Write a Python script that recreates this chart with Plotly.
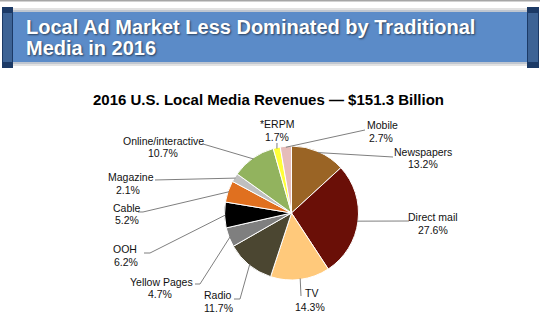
import math
import plotly.graph_objects as go

# ---- data ----
categories = ["Newspapers", "Direct mail", "TV", "Radio", "Yellow Pages", "OOH",
              "Cable", "Magazine", "Online/interactive", "*ERPM", "Mobile"]
shares = [13.2, 27.6, 14.3, 11.7, 4.7, 6.2, 5.2, 2.1, 10.7, 1.7, 2.7]
pct_labels = ["13.2%", "27.6%", "14.3%", "11.7%", "4.7%", "6.2%", "5.2%", "2.1%", "10.7%", "1.7%", "2.7%"]
colors = ["#9A6425", "#6A0F07", "#FFC97B", "#4B4631", "#7F7F7F", "#000000",
          "#E0701F", "#BFBFBF", "#92B35E", "#FFFF38", "#E6BDBA"]

header_lines = ["Local Ad Market Less Dominated by Traditional", "Media in 2016"]
chart_title = "2016 U.S. Local Media Revenues \u2014 $151.3 Billion"

# ---- layout constants (pixels) ----
W, H = 540, 334
CX, CY, R = 291.5, 213.0, 67.0

# label placement: (name x, name y, pct x, pct y)
label_pos = [
    (423, 152, 423, 164),
    (433, 217, 433, 230),
    (311, 293, 310, 307),
    (218, 295, 218, 308),
    (161, 282, 160, 294),
    (125, 249, 126, 262),
    (127, 208, 127, 220),
    (131, 177, 128, 190),
    (163, 141, 163, 153),
    (277, 124, 277, 137),
    (382, 125, 381, 138),
]
# leader-line anchor points near the labels (list of points, ending next to slice)
leader_anchor = [
    [(393, 157)],
    [(409, 221)],
    [(301, 296)],
    [(234, 299), (240, 299)],
    [(195, 284), (200, 284)],
    [(144, 253), (150, 253)],
    [(138, 212), (143, 212)],
    [(155, 180)],
    [(203, 144)],
    [(277, 143)],
    [(365, 130)],
]


def px(x):
    return x / W


def py(y):
    return 1 - y / H


fig = go.Figure()
fig.add_trace(go.Pie(
    values=shares,
    labels=categories,
    sort=False,
    direction="clockwise",
    rotation=0,
    textinfo="none",
    hoverinfo="label+percent",
    showlegend=False,
    marker=dict(colors=colors, line=dict(color="white", width=1)),
    domain=dict(x=[px(CX - R), px(CX + R)], y=[py(CY + R), py(CY - R)]),
))

shapes = []
# top gray border
shapes.append(dict(type="rect", xref="paper", yref="paper", x0=0, x1=1, y0=py(1.5), y1=1,
                   fillcolor="#A6A6A6", line=dict(width=0), layer="below"))
# banner shadow & body
shapes.append(dict(type="rect", xref="paper", yref="paper", x0=px(13), x1=px(527), y0=py(66), y1=py(8),
                   fillcolor="#E2E2E2", line=dict(width=0), layer="below"))
shapes.append(dict(type="rect", xref="paper", yref="paper", x0=px(13), x1=px(527), y0=py(64), y1=py(10),
                   fillcolor="#BFC6D0", line=dict(width=0), layer="below"))
shapes.append(dict(type="rect", xref="paper", yref="paper", x0=px(13), x1=px(527), y0=py(62), y1=py(12),
                   fillcolor="#5B8BC8", line=dict(width=0), layer="below"))
# end caps
for x0, x1 in [(2, 13), (527, 539)]:
    shapes.append(dict(type="rect", xref="paper", yref="paper", x0=px(x0), x1=px(x1), y0=py(68), y1=py(7),
                       fillcolor="#1C3A66", line=dict(width=0), layer="below"))
    shapes.append(dict(type="rect", xref="paper", yref="paper", x0=px(x0 + 1), x1=px(x1 - 1), y0=py(62), y1=py(13),
                       fillcolor="#3D6395", line=dict(width=0), layer="below"))

# leader lines: from slice middle on the rim to the label anchor
total = sum(shares)
cum = 0.0
for i, v in enumerate(shares):
    mid = (cum + v / 2) / total * 2 * math.pi
    cum += v
    ex = CX + (R - 1) * math.sin(mid)
    ey = CY - (R - 1) * math.cos(mid)
    pts = leader_anchor[i] + [(ex, ey)]
    path = "M " + " L ".join(f"{px(a):.5f},{py(b):.5f}" for a, b in pts)
    shapes.append(dict(type="path", xref="paper", yref="paper", path=path,
                       line=dict(color="#7F7F7F", width=1)))

annotations = []
for text, yy in [(header_lines[0], 27), (header_lines[1], 48)]:
    annotations.append(dict(text="<b>" + text + "</b>", x=px(24), y=py(yy), xref="paper", yref="paper",
                            xanchor="left", yanchor="middle", showarrow=False,
                            font=dict(family="Arial", size=20, color="white",
                                      shadow="1px 1px 2px rgba(0,0,0,0.55)")))
annotations.append(dict(text="<b>" + chart_title + "</b>", x=px(268.5), y=py(100), xref="paper", yref="paper",
                        xanchor="center", yanchor="middle", showarrow=False,
                        font=dict(family="Arial", size=15, color="black")))
for i, name in enumerate(categories):
    nx, ny, qx, qy = label_pos[i]
    annotations.append(dict(text=name, x=px(nx), y=py(ny), xref="paper", yref="paper",
                            xanchor="center", yanchor="middle", showarrow=False,
                            font=dict(family="Arial", size=10.5, color="#111111")))
    annotations.append(dict(text=pct_labels[i], x=px(qx), y=py(qy), xref="paper", yref="paper",
                            xanchor="center", yanchor="middle", showarrow=False,
                            font=dict(family="Arial", size=10.5, color="#111111")))

fig.update_layout(
    width=W, height=H,
    margin=dict(l=0, r=0, t=0, b=0),
    paper_bgcolor="white", plot_bgcolor="white",
    shapes=shapes, annotations=annotations,
)

fig.write_html("out.html", config={"displayModeBar": False})
